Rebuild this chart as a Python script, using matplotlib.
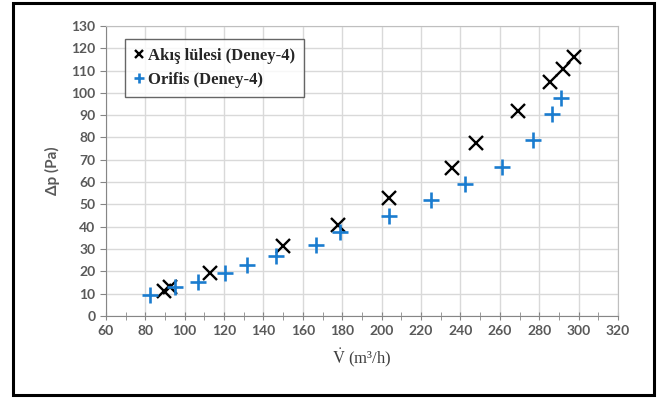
import matplotlib
matplotlib.use("Agg")
import matplotlib.pyplot as plt
from matplotlib.ticker import MultipleLocator
from matplotlib.patches import Rectangle

plt.rcParams["mathtext.fontset"] = "stix"

# Akış lülesi (Deney-4)
nozzle_q = [89.5, 92.5, 113, 150, 178, 203.5, 235.5, 248, 269, 285.5, 292, 297.5]
nozzle_dp = [11, 13.2, 19.2, 31.2, 41, 53, 66.5, 77.7, 92, 105, 110.7, 115.9]

# Orifis (Deney-4)
orifice_q = [82.5, 95, 107, 120.5, 131.5, 146.5, 166.5, 179, 203.5, 225, 242.5, 261, 277, 286.5, 291]
orifice_dp = [9.5, 13.2, 15.4, 19.2, 22.8, 26.7, 32, 37.5, 44.7, 52, 59, 66.7, 78.7, 90.3, 97.5]

gray = "#595959"

fig = plt.figure(figsize=(6.66, 3.98), dpi=100)
ax = fig.add_axes([0.159, 0.206, 0.769, 0.729])

ax.plot(nozzle_q, nozzle_dp, "x", color="black", ms=10, mew=1.7,
        label="Akış lülesi (Deney-4)")
ax.plot(orifice_q, orifice_dp, "+", color="#1a7ccf", ms=12, mew=1.9,
        label="Orifis (Deney-4)")

ax.set_xlim(60, 320)
ax.set_ylim(0, 130)
ax.xaxis.set_major_locator(MultipleLocator(20))
ax.xaxis.set_minor_locator(MultipleLocator(10))
ax.yaxis.set_major_locator(MultipleLocator(10))
ax.grid(True, which="major", color="#d9d9d9", lw=1)
ax.set_axisbelow(True)

for s in ["top", "right"]:
    ax.spines[s].set_color("#bfbfbf")
for s in ["left", "bottom"]:
    ax.spines[s].set_color("#868686")
ax.tick_params(axis="both", which="both", color="#868686", direction="out",
               length=4, labelcolor=gray, labelsize=10)
ax.tick_params(axis="x", which="both", direction="inout", length=6)
for lab in ax.get_xticklabels() + ax.get_yticklabels():
    lab.set_fontfamily("Lato")
    lab.set_fontweight("bold")

ax.set_xlabel(r"$\dot{\mathrm{V}}$ (m³/h)", family="Liberation Serif", fontsize=12,
              color="#404040", labelpad=7)
ax.set_ylabel("Δp (Pa)", family="Lato", fontweight="bold", fontsize=11, color=gray,
              labelpad=8)

leg = ax.legend(loc="upper left", bbox_to_anchor=(0.038, 0.955), frameon=True,
                fancybox=False, edgecolor="#404040", markerscale=0.55,
                handlelength=0.55, handletextpad=0.25, borderpad=0.55,
                labelspacing=0.45, borderaxespad=0,
                prop={"family": "Liberation Serif", "weight": "bold", "size": 12})
leg.get_frame().set_linewidth(1)
for t in leg.get_texts():
    t.set_color("#262626")

fig.patches.append(Rectangle((0.0195, 0.008), 0.962, 0.985, transform=fig.transFigure,
                             fill=False, edgecolor="black", lw=2.2))

fig.savefig("out.png", dpi=100)
